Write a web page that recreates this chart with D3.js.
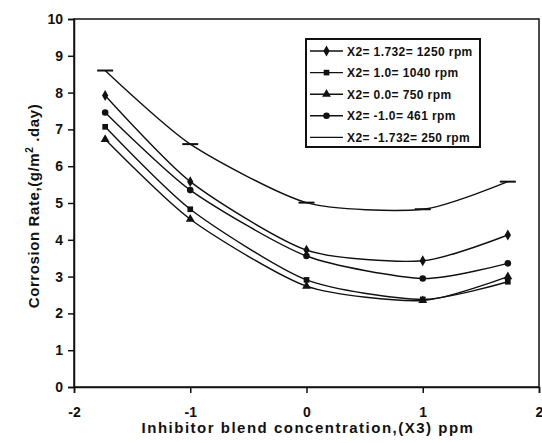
<!DOCTYPE html>
<html>
<head>
<meta charset="utf-8">
<script src="https://cdn.jsdelivr.net/npm/d3@7"></script>
<style>
  body { margin: 0; background: #fff; }
  svg { font-family: "Liberation Sans", Arial, sans-serif; font-weight: bold; }
</style>
</head>
<body>
<svg width="542" height="443"></svg>
<script>
// inhibitor levels (X3) and corrosion rates per rotation speed
var xLevels = [-1.732, -1, 0, 1, 1.732];
var xTicks = [-2, -1, 0, 1, 2];
var yTicks = [0, 1, 2, 3, 4, 5, 6, 7, 8, 9, 10];

var s1250 = [7.92, 5.58, 3.72, 3.43, 4.13];
var s1040 = [7.07, 4.83, 2.91, 2.38, 2.86];
var s750  = [6.73, 4.56, 2.74, 2.35, 3.00];
var s461  = [7.46, 5.35, 3.56, 2.95, 3.36];
var s250  = [8.60, 6.60, 5.01, 4.83, 5.58];

var seriesNames = ["X2= 1.732= 1250 rpm", "X2= 1.0= 1040 rpm", "X2= 0.0= 750 rpm", "X2= -1.0= 461 rpm", "X2= -1.732= 250 rpm"];
var seriesValues = [s1250, s1040, s750, s461, s250];
var markers = ["diamond", "square", "triangle", "circle", "dash"];

var svg = d3.select("svg");
var pLeft = 74, pRight = 539, pTop = 19, pBottom = 387;

var x = d3.scaleLinear().domain([-2, 2]).range([pLeft, pRight]);
var y = d3.scaleLinear().domain([0, 10]).range([pBottom, pTop]);

// plot frame
svg.append("rect")
  .attr("x", pLeft).attr("y", pTop)
  .attr("width", pRight - pLeft).attr("height", pBottom - pTop)
  .attr("fill", "none").attr("stroke", "#111").attr("stroke-width", 1.5);

var xAxis = svg.append("g")
  .attr("transform", "translate(0," + pBottom + ")")
  .call(d3.axisBottom(x).tickValues(xTicks).tickSize(6).tickPadding(14).tickFormat(function(d) { return String(d); }));
var yAxis = svg.append("g")
  .attr("transform", "translate(" + pLeft + ",0)")
  .call(d3.axisLeft(y).tickValues(yTicks).tickSize(6).tickPadding(5).tickFormat(function(d) { return String(d); }));

[xAxis, yAxis].forEach(function(g) {
  g.select(".domain").attr("stroke", "#111").attr("stroke-width", 1.5);
  g.selectAll(".tick line").attr("stroke", "#111").attr("stroke-width", 1.5);
  g.selectAll(".tick text").attr("fill", "#111")
    .style("font-size", "14px").style("font-weight", "bold")
    .style("font-family", "'Liberation Sans', Arial, sans-serif");
});

// axis titles
svg.append("text")
  .attr("x", 308).attr("y", 433)
  .attr("text-anchor", "middle")
  .style("font-size", "15px").style("letter-spacing", "1.5px").attr("fill", "#111")
  .text("Inhibitor blend concentration,(X3) ppm");

var yt = svg.append("text")
  .attr("transform", "translate(39,206) rotate(-90)")
  .attr("text-anchor", "middle")
  .style("font-size", "15px").style("letter-spacing", "0.6px").attr("fill", "#111");
yt.append("tspan").text("Corrosion Rate,(g/m");
yt.append("tspan").attr("dy", -6).style("font-size", "10px").text("2");
yt.append("tspan").attr("dy", 6).text(" .day)");

var line = d3.line()
  .x(function(d) { return x(d[0]); })
  .y(function(d) { return y(d[1]); })
  .curve(d3.curveCardinal.tension(0.3));

function drawMarker(g, type, cx, cy) {
  if (type === "dash") {
    g.append("line").attr("x1", cx - 8).attr("x2", cx + 8).attr("y1", cy).attr("y2", cy)
      .attr("stroke", "#111").attr("stroke-width", 2);
    return;
  }
  var sym = { diamond: d3.symbolDiamond, square: d3.symbolSquare, triangle: d3.symbolTriangle, circle: d3.symbolCircle }[type];
  var size = { diamond: 34, square: 32, triangle: 34, circle: 34 }[type];
  g.append("path")
    .attr("d", d3.symbol().type(sym).size(size)())
    .attr("transform", "translate(" + cx + "," + cy + ")")
    .attr("fill", "#111");
}

seriesValues.forEach(function(vals, i) {
  var pts = xLevels.map(function(v, j) { return [v, vals[j]]; });
  var g = svg.append("g");
  g.append("path").attr("d", line(pts))
    .attr("fill", "none").attr("stroke", "#111").attr("stroke-width", 1.4);
  pts.forEach(function(p) { drawMarker(g, markers[i], x(p[0]), y(p[1])); });
});

// legend
var lg = svg.append("g");
lg.append("rect").attr("x", 306).attr("y", 39).attr("width", 174).attr("height", 108)
  .attr("fill", "#fff").attr("stroke", "#111").attr("stroke-width", 2);
seriesNames.forEach(function(name, i) {
  var ly = 51 + i * 21.6;
  lg.append("line").attr("x1", 310).attr("x2", 343).attr("y1", ly).attr("y2", ly)
    .attr("stroke", "#111").attr("stroke-width", 1.4);
  if (markers[i] !== "dash") drawMarker(lg, markers[i], 326.5, ly);
  lg.append("text").attr("x", 347).attr("y", ly + 4.5)
    .style("font-size", "12px").style("letter-spacing", "0.4px").attr("fill", "#111").text(name);
});
</script>
</body>
</html>
